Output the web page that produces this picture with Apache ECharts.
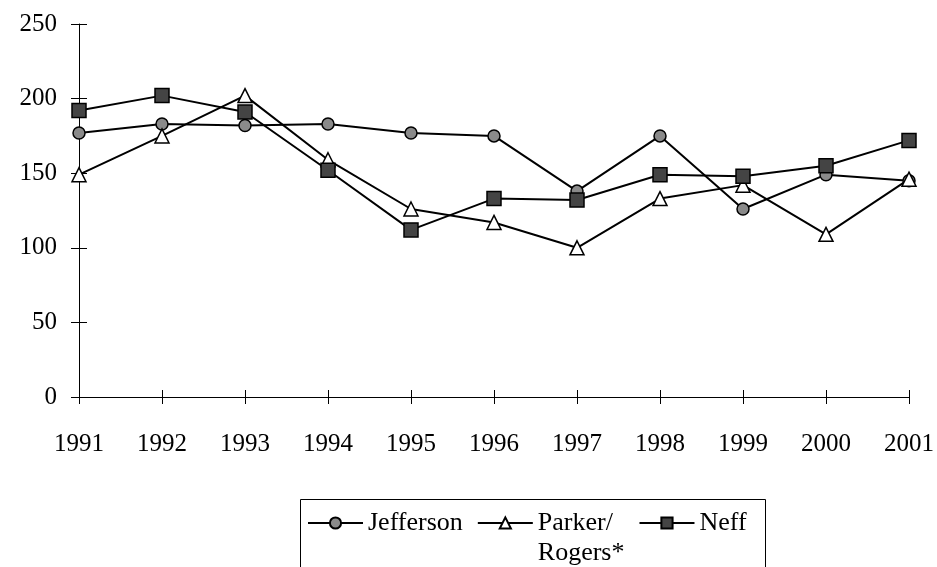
<!DOCTYPE html>
<html>
<head>
<meta charset="utf-8">
<script src="https://cdn.jsdelivr.net/npm/echarts@6/dist/echarts.min.js"></script>
<style>
  html, body { margin: 0; padding: 0; background: #fff; }
  #chart { width: 937px; height: 567px; }
</style>
</head>
<body>
<div id="chart"></div>
<script>
// years on the x axis
const years = ['1991', '1992', '1993', '1994', '1995', '1996', '1997', '1998', '1999', '2000', '2001'];
// series values
const jefferson = [177, 183, 182, 183, 177, 175, 138, 175, 126, 149, 145];
const parker = [149, 175, 202, 159, 126, 117, 100, 133, 142, 109, 146];
const neff = [192, 202, 191, 152, 112, 133, 132, 149, 148, 155, 172];

const font = 'Liberation Serif';
const myChart = echarts.init(document.getElementById('chart'));

// a line series with the look of the print
const makeLine = (name, data, symbol, size, fill) => ({
    name: name,
    type: 'line',
    data: data,
    symbol: symbol,
    symbolSize: size,
    showAllSymbol: true,
    lineStyle: { color: '#000', width: 2 },
    itemStyle: { color: fill, borderColor: '#000', borderWidth: 1.5 },
    emphasis: { disabled: true },
    animation: false
});

const option = {
    backgroundColor: '#fff',
    textStyle: { fontFamily: font, color: '#000' },
    grid: { left: 79, right: 28, top: 24, bottom: 170 },
    xAxis: [
        {
            type: 'category',
            data: years,
            boundaryGap: false,
            position: 'bottom',
            axisLine: { lineStyle: { color: '#000', width: 1 } },
            axisTick: { show: true, length: 7, lineStyle: { color: '#000' } },
            axisLabel: { color: '#000', fontFamily: font, fontSize: 25, margin: 35 },
            splitLine: { show: false }
        },
        {
            // inner half of the crossing ticks
            type: 'category',
            data: years,
            boundaryGap: false,
            position: 'bottom',
            offset: 0,
            axisLine: { show: false },
            axisTick: { show: true, inside: true, length: 7, lineStyle: { color: '#000' } },
            axisLabel: { show: false },
            splitLine: { show: false }
        }
    ],
    yAxis: [
        {
            type: 'value',
            min: 0,
            max: 250,
            interval: 50,
            axisLine: { show: true, lineStyle: { color: '#000', width: 1 } },
            axisTick: { show: true, length: 8, lineStyle: { color: '#000' } },
            axisLabel: { color: '#000', fontFamily: font, fontSize: 25, margin: 22 },
            splitLine: { show: false }
        },
        {
            type: 'value',
            min: 0,
            max: 250,
            interval: 50,
            position: 'left',
            offset: 0,
            axisLine: { show: false },
            axisTick: { show: true, inside: true, length: 8, lineStyle: { color: '#000' } },
            axisLabel: { show: false },
            splitLine: { show: false }
        }
    ],
    legend: {
        left: 307,
        top: 478,
        padding: 0,
        itemWidth: 55,
        itemHeight: 14,
        itemGap: 14,
        selectedMode: false,
        textStyle: { fontFamily: font, fontSize: 26, color: '#000', lineHeight: 30 },
        // blank first line keeps "Parker/" level with its icon
        formatter: name => name === 'Parker/Rogers*' ? ' \nParker/\nRogers*' : name,
        data: ['Jefferson', 'Parker/Rogers*', 'Neff']
    },
    graphic: [
        {
            type: 'rect',
            left: 298,
            top: 497,
            shape: { width: 465, height: 100 },
            style: { fill: 'none', stroke: '#000', lineWidth: 1 },
            z: -1
        }
    ],
    series: [
        makeLine('Jefferson', jefferson, 'circle', 12, '#8a8a8a'),
        makeLine('Parker/Rogers*', parker, 'triangle', 14, '#fff'),
        makeLine('Neff', neff, 'rect', 14, '#444')
    ]
};

myChart.setOption(option);
</script>
</body>
</html>
